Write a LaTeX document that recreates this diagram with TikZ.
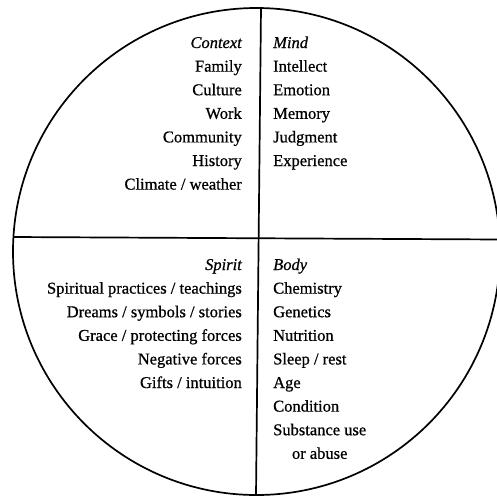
\documentclass[tikz,border=0pt]{standalone}
\usepackage{fontspec}
\setmainfont{Liberation Serif}[FakeBold=0.7]
\usetikzlibrary{positioning}

\tikzset{
  entry/.style={inner sep=0pt, text height=11pt, text depth=4pt,
    font=\fontsize{16.5}{20}\selectfont},
  head/.style={entry, font=\fontsize{16.5}{20}\selectfont\itshape},
  rim/.style={line width=1.7pt},
}

\begin{document}
\begin{tikzpicture}[x=1pt, y=-1pt, node distance=8.2pt]
  \useasboundingbox (0,0) rectangle (497,496);
  \begin{scope}
    \clip (0,0) rectangle (497,496);
    \draw [rim] (256.5,251.5) circle (243.5pt);
    \coordinate (T) at (261,8);
    \coordinate (B) at (256,495);
    \coordinate (L) at (13.4,237);
    \coordinate (R) at (501,239.5);
    \draw [rim] (T) -- (B);
    \draw [rim] (L) -- (R);
  \end{scope}

  % upper left
  \node [head, anchor=base east] (context) at (242,48) {Context};
  \node [entry, below=of context.south east, anchor=north east] (family) {Family};
  \node [entry, below=of family.south east, anchor=north east] (culture) {Culture};
  \node [entry, below=of culture.south east, anchor=north east] (work) {Work};
  \node [entry, below=of work.south east, anchor=north east] (community) {Community};
  \node [entry, below=of community.south east, anchor=north east] (history) {History};
  \node [entry, below=of history.south east, anchor=north east] (climate) {Climate / weather};

  % upper right
  \node [head, anchor=base west] (mind) at (273,48) {Mind};
  \node [entry, below=of mind.south west, anchor=north west] (intellect) {Intellect};
  \node [entry, below=of intellect.south west, anchor=north west] (emotion) {Emotion};
  \node [entry, below=of emotion.south west, anchor=north west] (memory) {Memory};
  \node [entry, below=of memory.south west, anchor=north west] (judgment) {Judgment};
  \node [entry, below=of judgment.south west, anchor=north west] (experience) {Experience};

  % lower left
  \node [head, anchor=base east] (spirit) at (242,270) {Spirit};
  \node [entry, below=of spirit.south east, anchor=north east] (practices) {Spiritual practices / teachings};
  \node [entry, below=of practices.south east, anchor=north east] (dreams) {Dreams / symbols / stories};
  \node [entry, below=of dreams.south east, anchor=north east] (grace) {Grace / protecting forces};
  \node [entry, below=of grace.south east, anchor=north east] (negative) {Negative forces};
  \node [entry, below=of negative.south east, anchor=north east] (gifts) {Gifts / intuition};

  % lower right
  \node [head, anchor=base west] (body) at (273,270) {Body};
  \node [entry, below=of body.south west, anchor=north west] (chemistry) {Chemistry};
  \node [entry, below=of chemistry.south west, anchor=north west] (genetics) {Genetics};
  \node [entry, below=of genetics.south west, anchor=north west] (nutrition) {Nutrition};
  \node [entry, below=of nutrition.south west, anchor=north west] (sleep) {Sleep / rest};
  \node [entry, below=of sleep.south west, anchor=north west] (age) {Age};
  \node [entry, below=of age.south west, anchor=north west] (condition) {Condition};
  \node [entry, below=of condition.south west, anchor=north west] (substance) {Substance use};
  \node [entry, below=of substance] (abuse) {or abuse};
\end{tikzpicture}
\end{document}
